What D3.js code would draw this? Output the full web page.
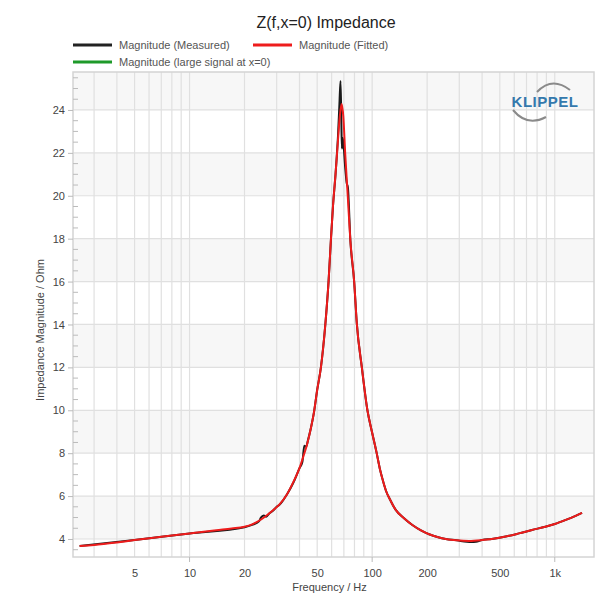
<!DOCTYPE html>
<html>
<head>
<meta charset="utf-8">
<script src="https://cdn.jsdelivr.net/npm/d3@7"></script>
<style>
  body { margin: 0; background: #fff; }
  svg { font-family: "Liberation Sans", Arial, sans-serif; }
</style>
</head>
<body>
<div id="chart"></div>
<script>
// values
const fitFreq = [2.5, 3, 4, 5, 7, 10, 14, 17, 20, 22, 24, 26, 28, 31, 34, 37, 40, 42, 44, 46, 48, 50,
  52.4, 55.4, 57.7, 59.4, 61, 63, 65, 66.5, 68, 69.5, 71.2, 73.5, 76, 79.7, 82.4, 87.8, 94.2, 100,
  105.6, 110, 114, 119, 125, 134, 150, 166, 185, 205, 230, 253, 290, 339, 400, 452, 530, 636, 750,
  888, 1000, 1140, 1300, 1410];
const fitZ = [3.67, 3.72, 3.84, 3.95, 4.10, 4.26, 4.41, 4.49, 4.57, 4.68, 4.85, 5.05, 5.27, 5.6, 6.05,
  6.65, 7.3, 7.85, 8.4, 9.1, 9.9, 10.95, 12.0, 14.0, 16.0, 17.9, 19.5, 21.0, 22.6, 23.7, 24.28, 23.7,
  21.95, 20.0, 17.9, 16.0, 14.05, 12.0, 10.0, 8.95, 8.05, 7.3, 6.78, 6.25, 5.85, 5.38, 4.95, 4.65, 4.4,
  4.22, 4.08, 4.0, 3.94, 3.91, 3.95, 4.0, 4.1, 4.26, 4.42, 4.57, 4.7, 4.88, 5.08, 5.22];

const measFreq = [2.5, 5, 10, 20, 22, 24, 24.6, 25.5, 26.3, 27.4, 28.5, 30, 31, 34, 37, 40, 41.5, 42.5,
  43.5, 44.5, 46, 48, 50, 52.4, 55.4, 57.7, 59.4, 61, 63, 65, 66.2, 67.1, 67.8, 68.3, 68.8, 69.5, 71.2,
  72.5, 73.6, 76, 79.7, 82.4, 87.8, 94.2, 100, 105.6, 110, 114, 119, 125, 134, 150, 166, 185, 205, 230,
  253, 290, 330, 350, 370, 400, 452, 530, 636, 750, 888, 1000, 1140, 1300, 1410];
const measZ = [3.67, 3.95, 4.26, 4.55, 4.66, 4.82, 5.0, 5.1, 5.04, 5.2, 5.3, 5.5, 5.58, 6.05, 6.62, 7.3,
  7.6, 8.35, 8.3, 8.6, 9.1, 9.9, 10.95, 12.0, 14.0, 16.0, 17.9, 19.5, 21.0, 22.8, 24.3, 25.35, 23.5,
  22.2, 22.7, 22.5, 21.3, 20.6, 20.4, 17.9, 16.0, 14.05, 12.0, 10.0, 8.95, 8.05, 7.3, 6.78, 6.25, 5.85,
  5.38, 4.95, 4.65, 4.4, 4.22, 4.08, 4.0, 3.94, 3.87, 3.86, 3.87, 3.95, 4.0, 4.1, 4.26, 4.42, 4.57,
  4.7, 4.88, 5.08, 5.22];

const xTickVals = [5, 10, 20, 50, 100, 200, 500, 1000];
const xTickText = ["5", "10", "20", "50", "100", "200", "500", "1k"];
const xGridVals = [3, 4, 5, 6, 7, 8, 9, 10, 20, 30, 40, 50, 60, 70, 80, 90,
  100, 200, 300, 400, 500, 600, 700, 800, 900, 1000];
const yTickVals = [4, 6, 8, 10, 12, 14, 16, 18, 20, 22, 24];

const legendItems = [
  { label: "Magnitude (Measured)", color: "#222", col: 0, row: 0 },
  { label: "Magnitude (Fitted)", color: "#ee1c1c", col: 1, row: 0 },
  { label: "Magnitude (large signal at x=0)", color: "#1e9a2a", col: 0, row: 1 }
];

const W = 616, H = 606;
const plot = { left: 73, top: 72, right: 594, bottom: 557 };

const svg = d3.select("#chart").append("svg")
  .attr("width", W)
  .attr("height", H);

const x = d3.scaleLog().domain([2.3, 1640]).range([plot.left, plot.right]);
const y = d3.scaleLinear().domain([3.16, 25.77]).range([plot.bottom, plot.top]);

// alternating bands
const bands = [[4, 6], [8, 10], [12, 14], [16, 18], [20, 22], [24, 25.77]];
svg.selectAll("rect.band")
  .data(bands)
  .enter()
  .append("rect")
  .attr("class", "band")
  .attr("x", plot.left)
  .attr("width", plot.right - plot.left)
  .attr("y", d => y(d[1]))
  .attr("height", d => y(d[0]) - y(d[1]))
  .attr("fill", "#f7f7f7");

// grid
svg.selectAll("line.vgrid")
  .data(xGridVals)
  .enter()
  .append("line")
  .attr("x1", d => x(d)).attr("x2", d => x(d))
  .attr("y1", plot.top).attr("y2", plot.bottom)
  .attr("stroke", "#e0e0e0")
  .attr("stroke-width", 1.2);

svg.selectAll("line.hgrid")
  .data(yTickVals)
  .enter()
  .append("line")
  .attr("x1", plot.left).attr("x2", plot.right)
  .attr("y1", d => y(d)).attr("y2", d => y(d))
  .attr("stroke", "#e0e0e0")
  .attr("stroke-width", 1.2);

// frame
svg.append("rect")
  .attr("x", plot.left).attr("y", plot.top)
  .attr("width", plot.right - plot.left)
  .attr("height", plot.bottom - plot.top)
  .attr("fill", "none")
  .attr("stroke", "#d4d4d4")
  .attr("stroke-width", 1.5);

// y axis
const yAxis = d3.axisLeft(y).tickValues(yTickVals).tickSize(5).tickPadding(3);
const gy = svg.append("g").attr("transform", `translate(${plot.left},0)`).call(yAxis);
gy.select(".domain").remove();
gy.selectAll(".tick line").attr("stroke", "#bbb");
gy.selectAll(".tick text").attr("fill", "#444").style("font-size", "11px")
  .style("font-family", "Liberation Sans, Arial, sans-serif");

// minor y ticks inside
const yMinor = d3.range(3.5, 25.6, 0.5).filter(v => v % 2 !== 0);
svg.selectAll("line.ymin")
  .data(yMinor)
  .enter()
  .append("line")
  .attr("x1", plot.left).attr("x2", plot.left + 5)
  .attr("y1", d => y(d)).attr("y2", d => y(d))
  .attr("stroke", "#bbb");

// x axis
const xAxis = d3.axisBottom(x).tickValues(xTickVals)
  .tickFormat((d, i) => xTickText[i]).tickSize(0).tickPadding(12);
const gx = svg.append("g").attr("transform", `translate(0,${plot.bottom})`).call(xAxis);
gx.select(".domain").remove();
gx.selectAll(".tick text").attr("fill", "#444").style("font-size", "11px")
  .style("font-family", "Liberation Sans, Arial, sans-serif");
svg.selectAll("line.xdec")
  .data([10, 100, 1000])
  .enter()
  .append("line")
  .attr("x1", d => x(d)).attr("x2", d => x(d))
  .attr("y1", plot.bottom).attr("y2", plot.bottom + 5)
  .attr("stroke", "#bbb");

// axis titles
svg.append("text")
  .attr("x", (plot.left + plot.right) / 2 - 4)
  .attr("y", 591)
  .attr("text-anchor", "middle")
  .attr("fill", "#444")
  .style("font-size", "11px")
  .text("Frequency / Hz");

svg.append("text")
  .attr("transform", "translate(44,330) rotate(-90)")
  .attr("text-anchor", "middle")
  .attr("fill", "#444")
  .style("font-size", "11px")
  .text("Impedance Magnitude / Ohm");

// curves
const line = (fs, zs) => d3.line()
  .x(i => x(fs[i]))
  .y(i => y(zs[i]))
  .curve(d3.curveMonotoneX)(d3.range(fs.length));

svg.append("path")
  .attr("d", line(measFreq, measZ))
  .attr("fill", "none")
  .attr("stroke", "#1a1a1a")
  .attr("stroke-width", 2);

svg.append("path")
  .attr("d", line(fitFreq, fitZ))
  .attr("fill", "none")
  .attr("stroke", "#ee1c1c")
  .attr("stroke-width", 2);

// title
svg.append("text")
  .attr("x", 326)
  .attr("y", 28)
  .attr("text-anchor", "middle")
  .attr("fill", "#222")
  .style("font-size", "16px")
  .text("Z(f,x=0) Impedance");

// legend
const leg = svg.append("g").selectAll("g")
  .data(legendItems)
  .enter()
  .append("g")
  .attr("transform", d => `translate(${73 + d.col * 180},${45 + d.row * 17})`);
leg.append("line")
  .attr("x1", 0).attr("x2", 39)
  .attr("stroke", d => d.color)
  .attr("stroke-width", 3);
leg.append("text")
  .attr("x", 46).attr("y", 4)
  .attr("fill", "#555")
  .style("font-size", "11px")
  .text(d => d.label);

// logo
const logo = svg.append("g");
logo.append("path")
  .attr("d", "M537,92 Q552,76 570,90")
  .attr("fill", "none").attr("stroke", "#8a8a8a").attr("stroke-width", 2);
logo.append("path")
  .attr("d", "M513,110 Q527,127 546,117")
  .attr("fill", "none").attr("stroke", "#8a8a8a").attr("stroke-width", 2);
logo.append("text")
  .attr("x", 545).attr("y", 107)
  .attr("text-anchor", "middle")
  .attr("fill", "#3479ad")
  .style("font-size", "15px")
  .style("font-weight", "bold")
  .style("letter-spacing", "0.5px")
  .text("KLIPPEL");
</script>
</body>
</html>
